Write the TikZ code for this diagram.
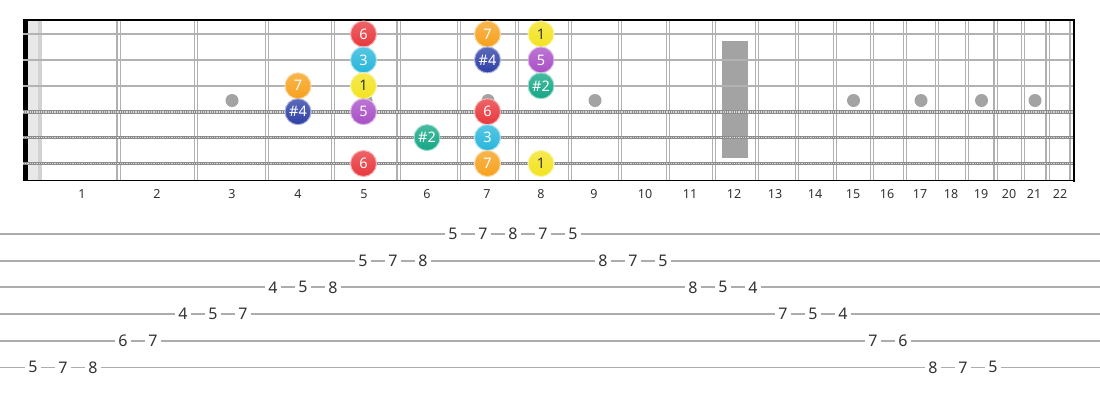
\documentclass[tikz,border=0pt]{standalone}
\usepackage{fontspec}
\setmainfont{Noto Sans}
\usetikzlibrary{positioning}
\definecolor{noteRed}{HTML}{E8383D}
\definecolor{noteCyan}{HTML}{27B6DC}
\definecolor{noteYellow}{HTML}{F3E320}
\definecolor{notePurple}{HTML}{A94FC6}
\definecolor{noteOrange}{HTML}{F6A11D}
\definecolor{noteBlue}{HTML}{2E40A6}
\definecolor{noteTeal}{HTML}{14A785}
\definecolor{wireGray}{HTML}{B0B0B0}
\definecolor{inlayGray}{HTML}{A3A3A3}
\definecolor{digitGray}{HTML}{333333}

\begin{document}
\begin{tikzpicture}[
		x=1pt, y=-1pt,
		fretwire/.style={draw=wireGray, line width=1.2},
		plainstring/.style={draw=gray!60, line width=2.5},
		woundstring/.style={draw=gray!90, line width=3.6},
		woundbead/.style={draw=gray!30, line width=1.6, dash pattern=on 0.9 off 0.9},
		inlay/.style={circle, fill=inlayGray, minimum size=13, inner sep=0},
		note/.style={
			circle,
			minimum size=26,
			inner sep=0,
			top color=#1!78!white,
			bottom color=#1,
			draw=#1!40!white,
			line width=1,
			font=\fontsize{14.5}{15}\selectfont
		},
		fretnum/.style={text=digitGray, font=\fontsize{12.5}{13}\selectfont, inner sep=1},
		tabline/.style={draw=gray!65, line width=1.7},
		tabnum/.style={fill=white, text=digitGray, font=\fontsize{16}{16}\selectfont, inner sep=3}
		]
		\useasboundingbox (0,0) rectangle (1100,400);
		\fill[white] (0,0) rectangle (1100,400);
		
		% We start with the neck: nut, 12th fret block and inlays
		\fill[black] (23,20) rectangle (28.3,180.5);
		\fill[gray!18] (28.3,20) rectangle (41.5,180.5);
		\fill[gray!35] (37.5,20) rectangle (41.5,180.5);
		\fill[inlayGray] (722,41) rectangle (748,158);
		\foreach \xx in {232,366,488,595,853.5,921,981.5,1035}
		\node[inlay] at (\xx,100.5) {};
		
		% fret wires (double lines)
		\foreach \xx in {118.5,196,267,333,398.5,459,517,570,620,668,714,757,797,835,872,905,937,967,995.5,1023,1047.5,1071.5}
		{
			\draw[fretwire] ({\xx-1.6},20) -- ({\xx-1.6},180.5);
			\draw[fretwire] ({\xx+1.6},20) -- ({\xx+1.6},180.5);
		}
		
		% strings
		\foreach \s in {1,2,3}
		\draw[plainstring] (23,{34+25.9*(\s-1)}) -- (1074,{34+25.9*(\s-1)});
		\foreach \s in {4,5,6}
		{
			\draw[woundstring] (23,{34+25.9*(\s-1)}) -- (1074,{34+25.9*(\s-1)});
			\draw[woundbead] (23,{34+25.9*(\s-1)}) -- (1074,{34+25.9*(\s-1)});
		}
		
		% frame
		\draw[black, line width=1.3] (23,20) -- (1074,20);
		\draw[black, line width=2.2] (912,20) -- (1074,20);
		\draw[black, line width=1.3] (23,180.5) -- (1074,180.5);
		\draw[black, line width=2.5] (1074,19) -- (1074,181.5);
		
		% fret numbers
		\foreach \n/\xx in {1/82,2/157,3/232,4/298,5/364,6/427,7/487,8/541,9/594,10/645,11/690,12/734,13/775,14/815,15/853,16/887,17/920,18/951,19/981,20/1009,21/1034,22/1060}
		\node[fretnum] (fret\n) at (\xx,194) {\n};
		
		% scale degrees on the neck
		\foreach \s/\f/\xx/\deg/\col/\txt in {
			1/5/363.5/6/noteRed/white, 2/5/363.5/3/noteCyan/white, 3/5/363.5/1/noteYellow/digitGray,
			4/5/363.5/5/notePurple/white, 6/5/363.5/6/noteRed/white,
			3/4/298/7/noteOrange/white, 4/4/298/\#4/noteBlue/white,
			5/6/427/\#2/noteTeal/white,
			1/7/487.5/7/noteOrange/white, 2/7/487.5/\#4/noteBlue/white, 4/7/487.5/6/noteRed/white,
			5/7/487.5/3/noteCyan/white, 6/7/487.5/7/noteOrange/white,
			1/8/541/1/noteYellow/digitGray, 2/8/541/5/notePurple/white, 3/8/541/\#2/noteTeal/white,
			6/8/541/1/noteYellow/digitGray}
		\node[note=\col, text=\txt] (note\s-\f) at (\xx,{34+25.9*(\s-1)}) {\deg};
		
		% tab staff
		\foreach \s in {1,...,6}
		\draw[tabline] (0,{234+26.67*(\s-1)}) -- (1100,{234+26.67*(\s-1)});
		\foreach \i/\s/\f in {0/6/5,1/6/7,2/6/8,3/5/6,4/5/7,5/4/4,6/4/5,7/4/7,8/3/4,9/3/5,10/3/8,
			11/2/5,12/2/7,13/2/8,14/1/5,15/1/7,16/1/8,17/1/7,18/1/5,19/2/8,20/2/7,21/2/5,
			22/3/8,23/3/5,24/3/4,25/4/7,26/4/5,27/4/4,28/5/7,29/5/6,30/6/8,31/6/7,32/6/5}
		\node[tabnum] (tab\i) at ({33+30*\i},{234+26.67*(\s-1)}) {\f};
		
\end{tikzpicture}
\end{document}
